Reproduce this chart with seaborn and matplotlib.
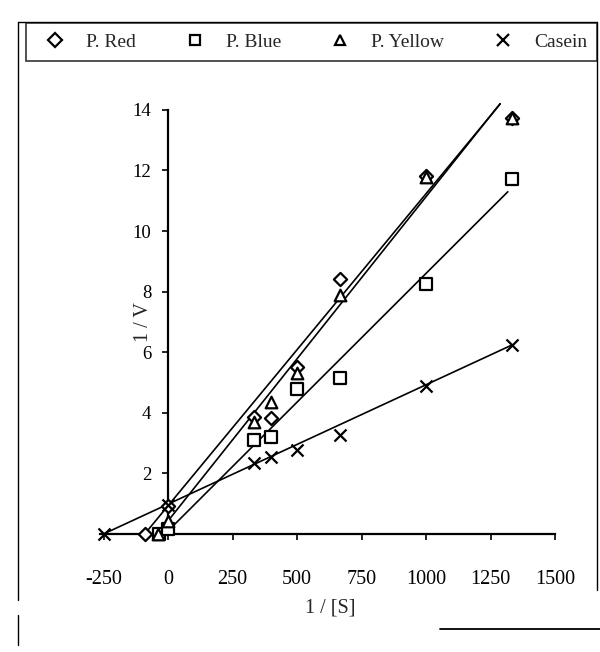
import numpy as np
import pandas as pd
import matplotlib
matplotlib.use("Agg")
import matplotlib.pyplot as plt
from matplotlib.lines import Line2D
import seaborn as sns

# ---- data ----
series_names = ["P. Red", "P. Blue", "P. Yellow", "Casein"]
red_x = [-90, 0, 333, 400, 500, 667, 1000, 1333]
red_y = [0, 0.93, 3.85, 3.82, 5.5, 8.4, 11.8, 13.74]
blue_x = [-35, 0, 333, 400, 500, 667, 1000, 1333]
blue_y = [0, 0.15, 3.1, 3.21, 4.8, 5.14, 8.25, 11.7]
yellow_x = [-40, 0, 333, 400, 500, 667, 1000, 1333]
yellow_y = [0, 0.43, 3.71, 4.37, 5.3, 7.9, 11.77, 13.74]
casein_x = [-250, 0, 333, 400, 500, 667, 1000, 1333]
casein_y = [0, 0.96, 2.33, 2.55, 2.77, 3.27, 4.9, 6.24]

# linear trendlines: slope, intercept, x start, x end
trend_slope = [0.0103, 0.0085, 0.0107, 0.00394]
trend_intercept = [0.93, 0.10, 0.43, 0.985]
trend_x0 = [-90, -12, -40, -250]
trend_x1 = [1288, 1317, 1287, 1333]

x_ticks = [-250, 0, 250, 500, 750, 1000, 1250, 1500]
y_ticks = [0, 2, 4, 6, 8, 10, 12, 14]

# ---- style ----
sns.set_style("white")
plt.rcParams["font.family"] = ["Liberation Serif", "DejaVu Serif"]

W, H = 600, 652
fig = plt.figure(figsize=(W / 100, H / 100), dpi=100)

# axes placement in pixels
xl0, xl1 = -265, 1505
yl0, yl1 = 0, 14.3
px_per_x = 0.258
px_per_y = 30.3
zero_px_x = 168
zero_px_y = 534
left_px = zero_px_x + xl0 * px_per_x
width_px = (xl1 - xl0) * px_per_x
height_px = (yl1 - yl0) * px_per_y
ax = fig.add_axes([left_px / W, (H - zero_px_y) / H, width_px / W, height_px / H])

markers = ["D", "s", "^", "x"]
msizes = [45, 70, 70, 75]
xs = [red_x, blue_x, yellow_x, casein_x]
ys = [red_y, blue_y, yellow_y, casein_y]

frames = []
for name, x, y in zip(series_names, xs, ys):
    frames.append(pd.DataFrame({"x": x, "y": y, "series": name}))
df = pd.concat(frames, ignore_index=True)

# trendlines
for i, name in enumerate(series_names):
    lx = np.array([trend_x0[i], trend_x1[i]], dtype=float)
    ly = trend_intercept[i] + trend_slope[i] * lx
    tdf = pd.DataFrame({"x": lx, "y": ly})
    sns.lineplot(data=tdf, x="x", y="y", ax=ax, color="black", lw=1.2,
                 legend=False, sort=False)

# points
for i, name in enumerate(series_names):
    sub = df[df["series"] == name]
    if markers[i] == "x":
        sns.scatterplot(data=sub, x="x", y="y", ax=ax, marker="x", s=msizes[i],
                        color="black", linewidth=1.6, legend=False, clip_on=False, zorder=3)
    else:
        sns.scatterplot(data=sub, x="x", y="y", ax=ax, marker=markers[i], s=msizes[i],
                        facecolor="white", edgecolor="black", linewidth=1.6,
                        legend=False, clip_on=False, zorder=3)

ax.set_xlim(xl0, xl1)
ax.set_ylim(yl0, yl1)
ax.spines["left"].set_position(("data", 0))
ax.spines["bottom"].set_position(("data", 0))
ax.spines["right"].set_visible(False)
ax.spines["top"].set_visible(False)
ax.spines["left"].set_bounds(0, 14)
ax.spines["bottom"].set_bounds(-262, 1500)
for s in ["left", "bottom"]:
    ax.spines[s].set_color("black")
    ax.spines[s].set_linewidth(1.6)

ax.set_xticks(x_ticks)
ax.set_yticks(y_ticks)
ax.set_xticklabels([str(v) for v in x_ticks], fontsize=14.5)
ax.set_yticklabels(["" if v == 0 else str(v) for v in y_ticks], fontsize=13.5)
ax.tick_params(axis="x", bottom=True, direction="out", length=4, width=1.2,
               pad=22, colors="black")
ax.tick_params(axis="y", left=True, direction="out", length=4, width=1.2,
               pad=8, colors="black")
ax.patch.set_alpha(0)

ax.set_xlabel("1 / [S]", fontsize=14.5)
ax.set_ylabel("1 / V", fontsize=14.5)
ax.xaxis.set_label_coords((330 - left_px) / width_px, -(598 - zero_px_y) / height_px)
ax.yaxis.set_label_coords((153 - left_px) / width_px, (zero_px_y - 322) / height_px)

# legend
handles = []
for i, name in enumerate(series_names):
    if markers[i] == "x":
        h = Line2D([], [], marker="x", ls="none", color="black", ms=8, mew=1.6, label=name)
    else:
        h = Line2D([], [], marker=markers[i], ls="none", mfc="white", mec="black",
                   ms=7, mew=1.6, label=name)
    handles.append(h)
leg = fig.legend(handles=handles, loc="center", ncol=4, mode="expand",
                 bbox_to_anchor=(26 / W, 1 - 62 / H, 571 / W, 40 / H),
                 borderaxespad=0, fontsize=14, frameon=True, fancybox=False,
                 edgecolor="black", handletextpad=0.6, columnspacing=1.5,
                 borderpad=0.5)
leg.get_frame().set_linewidth(1.2)

# outer frame (left, top, right) and partial bottom line
def fline(x0, y0, x1, y1, lw=1.0):
    fig.lines.append(Line2D([x0 / W, x1 / W], [1 - y0 / H, 1 - y1 / H],
                            transform=fig.transFigure, color="black", lw=lw))

fline(18, 22, 597, 22)
fline(18, 22, 18, 600)
fline(18, 615, 18, 645)
fline(597, 22, 597, 590)
fline(440, 629, 600, 629, lw=1.3)

fig.savefig("out.png", dpi=100, facecolor="white")
